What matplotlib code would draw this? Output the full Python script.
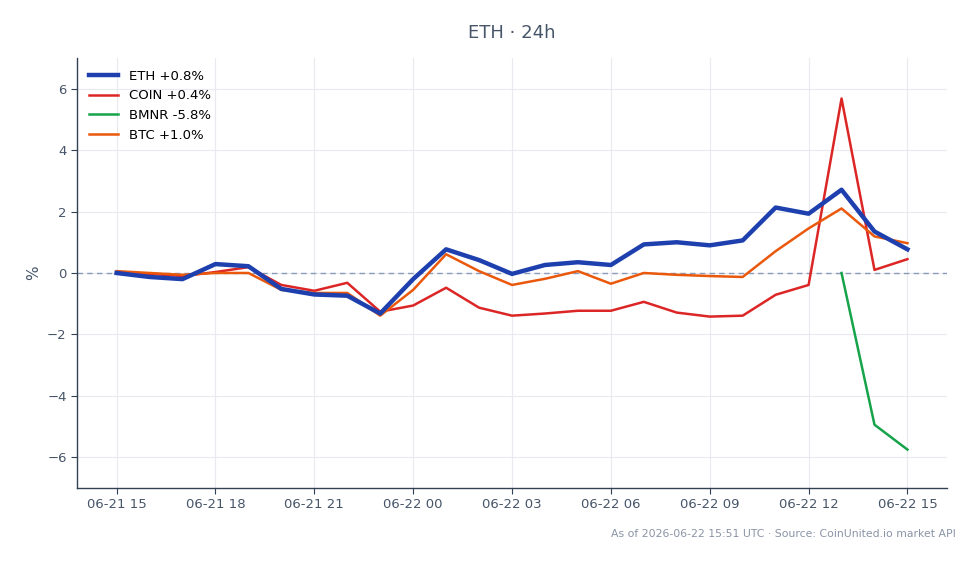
import matplotlib
matplotlib.use("Agg")
import matplotlib.pyplot as plt
import matplotlib.dates as mdates
import pandas as pd
import numpy as np

times = pd.date_range("2026-06-21 15:00", "2026-06-22 15:00", freq="h")

eth = [0.0, -0.13, -0.2, 0.29, 0.22, -0.52, -0.7, -0.74, -1.32, -0.2, 0.77, 0.42,
       -0.03, 0.26, 0.35, 0.26, 0.93, 1.0, 0.9, 1.06, 2.13, 1.93, 2.71, 1.35, 0.77]
coin = [0.03, -0.03, -0.1, 0.03, 0.19, -0.39, -0.58, -0.32, -1.26, -1.06, -0.48, -1.13,
        -1.39, -1.32, -1.23, -1.23, -0.94, -1.29, -1.42, -1.39, -0.71, -0.39, 5.68, 0.1, 0.45]
btc = [0.06, 0.0, -0.06, 0.0, 0.0, -0.55, -0.65, -0.65, -1.39, -0.55, 0.61, 0.06,
       -0.39, -0.19, 0.06, -0.35, 0.0, -0.06, -0.1, -0.13, 0.71, 1.45, 2.1, 1.19, 0.97]
bmnr = [np.nan] * 22 + [0.0, -4.94, -5.75]

labels = ["ETH +0.8%", "COIN +0.4%", "BMNR -5.8%", "BTC +1.0%"]
colors = ["#1e40af", "#dc2626", "#16a34a", "#ea580c"]
title = "ETH · 24h"
footer = "As of 2026-06-22 15:51 UTC · Source: CoinUnited.io market API"

plt.rcParams["font.family"] = ["DejaVu Sans"]
fig = plt.figure(figsize=(9.79, 5.64), dpi=100)
ax = fig.add_axes([0.0787, 0.1348, 0.8886, 0.7624])

ax.plot(times, eth, color=colors[0], lw=3.2, label=labels[0], zorder=5)
ax.plot(times, coin, color=colors[1], lw=1.8, label=labels[1], zorder=4)
ax.plot(times, bmnr, color=colors[2], lw=1.8, label=labels[2], zorder=4)
ax.plot(times, btc, color=colors[3], lw=1.8, label=labels[3], zorder=4)

ax.axhline(0, color="#8a9bb8", lw=1.0, ls=(0, (4, 3)), zorder=2)

ax.set_ylim(-7, 7)
ax.set_yticks([-6, -4, -2, 0, 2, 4, 6])
ax.set_ylabel("%", color="#475569", fontsize=11)
ax.xaxis.set_major_locator(mdates.HourLocator(byhour=[0, 3, 6, 9, 12, 15, 18, 21]))
ax.xaxis.set_major_formatter(mdates.DateFormatter("%m-%d %H"))

ax.grid(True, color="#e8eaf0", lw=0.8)
ax.set_axisbelow(True)
for s in ["top", "right"]:
    ax.spines[s].set_visible(False)
for s in ["left", "bottom"]:
    ax.spines[s].set_color("#334155")
    ax.spines[s].set_linewidth(1.0)
ax.tick_params(colors="#475569", labelsize=9.5, length=4)
ax.tick_params(axis="both", color="#334155")

leg = ax.legend(loc="upper left", frameon=False, fontsize=9.5, handlelength=2.2)

fig.suptitle(title, x=0.523, y=0.958, color="#475569", fontsize=13)
fig.text(0.976, 0.053, footer, ha="right", va="center", color="#8a94a6", fontsize=7.8)

fig.savefig("out.png", dpi=100)
